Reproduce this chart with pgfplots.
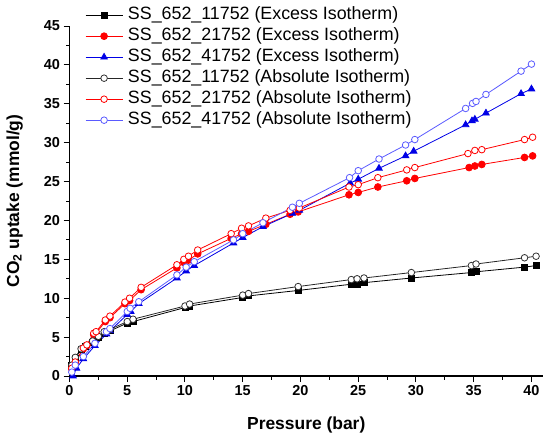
\documentclass[border=0pt]{standalone}
\usepackage{fontspec}
\setmainfont{Liberation Sans}
\usepackage{pgfplots}
\pgfplotsset{compat=1.18}
\definecolor{myblue}{RGB}{0,0,230}
\definecolor{myred}{RGB}{255,0,0}
\definecolor{lblue}{RGB}{90,90,255}
\begin{document}
\begin{tikzpicture}
\begin{axis}[
  scale only axis, width=473.5bp, height=350bp,
  xmin=0, xmax=41, ymin=0, ymax=45,
  axis lines=left, axis line style={-, line width=1.1bp},
  xtick={0,5,...,40}, ytick={0,5,...,45},
  minor x tick num=1, minor y tick num=1,
  tick align=outside, major tick length=6bp, minor tick length=3.5bp,
  tick style={line width=1bp, black},
  /pgf/number format/assume math mode=true,
  ticklabel style={font=\fontsize{14.5}{16}\selectfont\bfseries},
  xlabel={Pressure (bar)},
  ylabel={CO\textsubscript{2} uptake (mmol/g)},
  label style={font=\fontsize{17.5}{19}\selectfont\bfseries},
  xlabel style={at={(axis description cs:0.5,-0.14)}, anchor=center},
  ylabel style={at={(axis description cs:-0.116,0.5)}, anchor=center, rotate=0},
  clip=false,
  legend cell align=left,
  legend style={draw=none, fill=none, at={(axis description cs:0.0327,1.0586)}, anchor=north west,
    font=\fontsize{17.9}{19}\selectfont, inner sep=0pt, row sep=2bp, column sep=4bp,
    nodes={inner sep=1bp, text height=13bp, text depth=4bp}},
  legend image code/.code={\draw[mark repeat=2,mark phase=2] plot coordinates {(0bp,0bp) (18.5bp,0bp) (37bp,0bp)};},
  every axis plot/.append style={line width=0.8bp},
]
% Excess 11752
\addplot[black, mark=square*, mark size=3bp, mark options={solid, fill=black}] coordinates {
(0.2,1.3)(0.5,2.3)(1.0,3.4)(1.4,3.8)(2.0,4.3)(2.5,4.9)(3.0,5.5)(3.5,5.8)(5.0,6.8)(5.5,7.0)
(10.0,8.8)(10.4,9.0)(15.0,10.1)(15.5,10.3)(19.8,11.0)(24.4,11.8)(24.9,11.8)(25.5,12.0)
(29.6,12.6)(34.8,13.3)(35.2,13.4)(39.4,14.0)(40.4,14.2)};
\addlegendentry{SS\_652\_11752 (Excess Isotherm)}
% Excess 21752
\addplot[myred, mark=*, mark size=3.4bp, mark options={solid, fill=myred}] coordinates {
(0.2,0.9)(0.5,1.7)(1.2,3.5)(1.5,3.9)(2.1,5.3)(2.3,5.5)(3.1,7.0)(3.5,7.5)(4.8,9.3)(5.2,9.7)
(6.2,11.1)(9.3,13.9)(9.9,14.6)(10.3,14.9)(11.1,15.7)(14.0,17.7)(14.9,18.3)(15.5,18.6)
(17.0,19.5)(19.1,20.8)(19.8,21.1)(24.2,23.3)(25.0,23.6)(26.7,24.3)(29.2,25.1)(29.9,25.4)
(34.6,26.8)(35.1,27.0)(35.7,27.2)(39.4,28.1)(40.1,28.3)};
\addlegendentry{SS\_652\_21752 (Excess Isotherm)}
% Excess 41752
\addplot[myblue, mark=triangle*, mark size=3.8bp, mark options={solid, fill=myblue}] coordinates {
(0.3,0.0)(0.6,1.0)(1.2,2.2)(2.2,3.9)(3.2,5.4)(3.5,5.8)(5.0,7.9)(5.3,8.3)(6.0,9.3)
(9.3,12.6)(10.1,13.5)(10.8,14.2)(14.2,17.1)(15.0,17.8)(16.75,19.2)(19.3,20.9)(19.9,21.3)
(24.3,24.8)(25.0,25.3)(26.8,26.7)(29.1,28.3)(29.8,28.9)(34.3,32.3)(34.85,32.8)(35.1,33.0)
(36.06,33.8)(39.1,36.3)(40.0,36.9)};
\addlegendentry{SS\_652\_41752 (Excess Isotherm)}
% Absolute 11752
\addplot[black!85, mark=*, mark size=3.3bp, mark options={solid, fill=white, draw=black!80}] coordinates {
(0.2,1.4)(0.5,2.4)(1.0,3.5)(1.4,3.9)(2.0,4.5)(2.5,5.1)(3.0,5.7)(3.5,6.0)(5.0,7.0)(5.5,7.3)
(10.0,9.0)(10.4,9.25)(15.0,10.4)(15.5,10.6)(19.8,11.5)(24.4,12.4)(24.9,12.5)(25.5,12.6)
(29.6,13.3)(34.8,14.2)(35.2,14.4)(39.4,15.2)(40.4,15.4)};
\addlegendentry{SS\_652\_11752 (Absolute Isotherm)}
% Absolute 21752
\addplot[myred, mark=*, mark size=3.3bp, mark options={solid, fill=white, draw=myred}] coordinates {
(0.2,1.0)(0.5,1.8)(1.2,3.6)(1.5,4.0)(2.1,5.5)(2.3,5.7)(3.1,7.2)(3.5,7.7)(4.8,9.5)(5.2,10.0)
(6.2,11.4)(9.3,14.3)(9.9,15.0)(10.3,15.4)(11.1,16.2)(14.0,18.3)(14.9,19.0)(15.5,19.3)
(17.0,20.3)(19.1,21.3)(19.9,21.6)(24.2,24.3)(25.0,24.6)(26.7,25.5)(29.2,26.5)(29.9,26.8)
(34.5,28.6)(35.1,29.0)(35.7,29.1)(39.4,30.4)(40.1,30.7)};
\addlegendentry{SS\_652\_21752 (Absolute Isotherm)}
% Absolute 41752
\addplot[lblue, mark=*, mark size=3.3bp, mark options={solid, fill=white, draw=lblue}] coordinates {
(0.2,0.5)(0.5,1.4)(1.2,2.5)(2.2,4.2)(3.2,5.7)(3.5,6.1)(5.0,8.3)(5.25,8.7)(6.0,9.55)
(9.3,13.0)(10.1,14.0)(10.8,14.7)(14.2,17.5)(15.0,18.3)(16.75,19.7)(19.3,21.7)(19.9,22.2)
(24.25,25.5)(25.0,26.4)(26.8,27.9)(29.1,29.7)(29.9,30.4)(34.3,34.4)(34.9,35.05)(35.2,35.3)
(36.06,36.2)(39.1,39.2)(40.0,40.1)};
\addlegendentry{SS\_652\_41752 (Absolute Isotherm)}
\end{axis}
\pgfresetboundingbox
\path ([shift={(-69.5bp,-63bp)}]current axis.south west) rectangle ([shift={(7bp,26bp)}]current axis.north east);
\end{tikzpicture}
\end{document}
